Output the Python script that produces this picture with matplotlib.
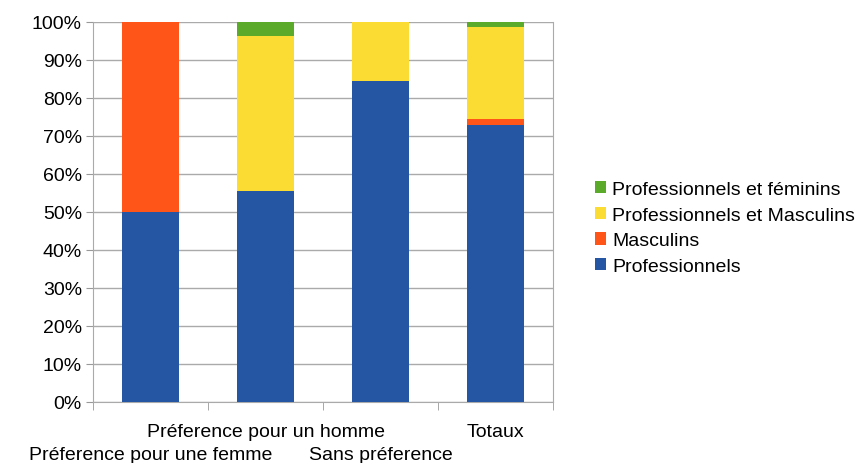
import matplotlib
matplotlib.use("Agg")
import matplotlib.pyplot as plt
import matplotlib.transforms as mtransforms
import numpy as np

plt.rcParams['font.family'] = ['Liberation Sans', 'DejaVu Sans']

categories = ["Préference pour une femme", "Préference pour un homme",
              "Sans préference", "Totaux"]
professionnels = [50.0, 55.6, 84.5, 72.9]
masculins = [50.0, 0.0, 0.0, 1.6]
prof_masculins = [0.0, 40.6, 15.5, 24.3]
prof_feminins = [0.0, 3.8, 0.0, 1.2]

series = [
    ("Professionnels", professionnels, "#2456A4"),
    ("Masculins", masculins, "#FF5519"),
    ("Professionnels et Masculins", prof_masculins, "#FADC32"),
    ("Professionnels et féminins", prof_feminins, "#5BAA2A"),
]

fig = plt.figure(figsize=(8.62, 4.64), dpi=100)
ax = fig.add_axes([0.108, 0.1315, 0.5335, 0.819])

x = np.arange(len(categories))
bottom = np.zeros(len(categories))
handles = []
for name, vals, col in series:
    v = np.array(vals)
    b = ax.bar(x, v, width=0.5, bottom=bottom, color=col, label=name, zorder=3)
    handles.append(b)
    bottom += v

ax.set_xlim(-0.5, 3.5)
ax.set_ylim(0, 100)
yt = np.arange(0, 101, 10)
ax.set_yticks(yt)
ax.set_yticklabels([f"{v}%" for v in yt], fontsize=14)
ax.grid(axis='y', color='#AAAAAA', linewidth=1, zorder=0)

# category labels, staggered on two rows
ax.set_xticks(x)
ax.set_xticklabels([])
ax.tick_params(axis='x', which='major', length=0)
trans = ax.get_xaxis_transform()
for i, c in enumerate(categories):
    dy = -44 if i % 2 == 0 else -21
    off = mtransforms.offset_copy(trans, fig=fig, x=0, y=dy, units='dots')
    ax.text(i, 0, c, transform=off, ha='center', va='top', fontsize=14)

ax.set_xticks(np.arange(-0.5, 3.6, 1), minor=True)
ax.tick_params(axis='x', which='minor', length=6, color='#999999', direction='out')
ax.tick_params(axis='y', length=5, color='#999999', direction='out', pad=3)

ax.spines['top'].set_visible(False)
for s in ['left', 'bottom', 'right']:
    ax.spines[s].set_color('#AAAAAA')

leg = fig.legend(handles[::-1], [s[0] for s in series][::-1],
                 loc='upper left', bbox_to_anchor=(0.690, 0.608),
                 frameon=False, fontsize=14, handlelength=0.58,
                 handleheight=0.58, handletextpad=0.3, labelspacing=0.45,
                 borderaxespad=0, borderpad=0)

fig.savefig("out.png", dpi=100)
